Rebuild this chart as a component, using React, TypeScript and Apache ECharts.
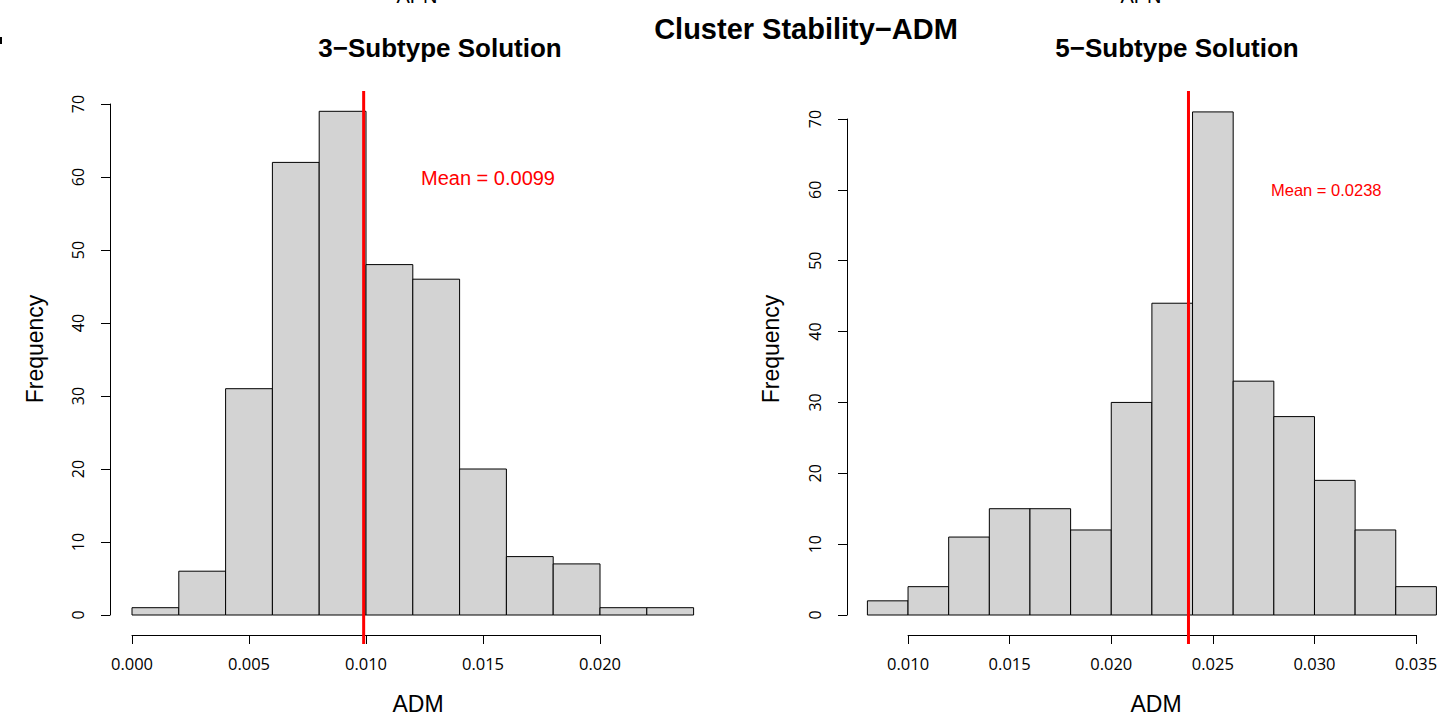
import React, { useEffect, useRef } from "react";
import * as echarts from "echarts";

// ---------- data ----------
const LEFT_BREAKS = [0.0, 0.002, 0.004, 0.006, 0.008, 0.01, 0.012, 0.014, 0.016, 0.018, 0.02, 0.022, 0.024];
const LEFT_COUNTS = [1, 6, 31, 62, 69, 48, 46, 20, 8, 7, 1, 1];
const LEFT_MEAN = 0.0099;

const RIGHT_BREAKS = [0.008, 0.01, 0.012, 0.014, 0.016, 0.018, 0.02, 0.022, 0.024, 0.026, 0.028, 0.03, 0.032, 0.034, 0.036];
const RIGHT_COUNTS = [2, 4, 11, 15, 15, 12, 30, 44, 71, 33, 28, 19, 12, 4];
const RIGHT_MEAN = 0.0238;

const Y_MAX = 70;
const Y_STEP = 10;
const LEFT_X_TICKS = { min: 0.0, max: 0.02, step: 0.005 };
const RIGHT_X_TICKS = { min: 0.01, max: 0.035, step: 0.005 };

const MAIN_TITLE = "Cluster Stability\u2212ADM";
const LEFT_TITLE = "3\u2212Subtype Solution";
const RIGHT_TITLE = "5\u2212Subtype Solution";
const X_NAME = "ADM";
const Y_NAME = "Frequency";
const LEFT_MEAN_LABEL = "Mean = 0.0099";
const RIGHT_MEAN_LABEL = "Mean = 0.0238";

function bins(breaks: number[], counts: number[]) {
  return counts.map((c, i) => [breaks[i], breaks[i + 1], c]);
}

const TICK_FONT = "'Open Sans', 'DejaVu Sans', sans-serif";
const SANS = "'Liberation Sans', Arial, sans-serif";

export default function App() {
  const ref = useRef<HTMLDivElement>(null);
  useEffect(() => {
    if (!ref.current) return;
    const chart = echarts.init(ref.current, null, { renderer: "svg" });

    // pixel layout
    const L = { x0: 132, x1: 693.6, axisX: 110, top: 104, bottom: 615, axisY: 635 };
    const R = { x0: 867.4, x1: 1436.4, axisX: 847, top: 119, bottom: 615, axisY: 635 };
    const pxL = (L.x1 - L.x0) / (LEFT_BREAKS[LEFT_BREAKS.length - 1] - LEFT_BREAKS[0]);
    const pxR = (R.x1 - R.x0) / (RIGHT_BREAKS[RIGHT_BREAKS.length - 1] - RIGHT_BREAKS[0]);
    const lineTop = 91, lineBottom = 644;

    const grid = (left: number, right: number, top: number, bottom: number) => ({
      left, top, width: right - left, height: bottom - top, containLabel: false,
    });

    const hiddenAxis = (min: number, max: number) => ({
      type: "value", min, max, show: false,
    });

    const yAxisVisible = () => ({
      type: "value", min: 0, max: Y_MAX, interval: Y_STEP, position: "left",
      axisLine: { show: true, onZero: false, lineStyle: { color: "#000", width: 1 } },
      axisTick: { show: true, length: 9, lineStyle: { color: "#000", width: 1 } },
      axisLabel: { rotate: 90, margin: 24, color: "#000", fontSize: 16, fontFamily: TICK_FONT },
      splitLine: { show: false },
    });

    const xAxisVisible = (t: { min: number; max: number; step: number }) => ({
      type: "value", min: t.min, max: t.max, interval: t.step, position: "bottom",
      axisLine: { show: true, onZero: false, lineStyle: { color: "#000", width: 1 } },
      axisTick: { show: true, length: 9, lineStyle: { color: "#000", width: 1 } },
      axisLabel: { margin: 20, color: "#000", fontSize: 16.5, fontFamily: TICK_FONT, formatter: (v: number) => v.toFixed(3) },
      splitLine: { show: false },
    });

    const renderBar = (params: any, api: any) => {
      const a = api.value(0), b = api.value(1), c = api.value(2);
      const p0 = api.coord([a, c]);
      const p1 = api.coord([b, 0]);
      return {
        type: "rect",
        shape: { x: p0[0], y: p0[1], width: p1[0] - p0[0], height: p1[1] - p0[1] },
        style: { fill: "#d3d3d3", stroke: "#000", lineWidth: 1 },
      };
    };

    const lxMin = LEFT_BREAKS[0], lxMax = LEFT_BREAKS[LEFT_BREAKS.length - 1];
    const rxMin = RIGHT_BREAKS[0], rxMax = RIGHT_BREAKS[RIGHT_BREAKS.length - 1];

    const option: any = {
      animation: false,
      backgroundColor: "#fff",
      grid: [
        grid(L.x0, L.x1, L.top, L.bottom), // 0 left data
        grid(L.x0 + (LEFT_X_TICKS.min - lxMin) * pxL, L.x0 + (LEFT_X_TICKS.max - lxMin) * pxL, L.top, L.axisY), // 1 left x axis
        grid(L.x0, L.x1, lineTop, lineBottom), // 2 left mean line
        grid(L.axisX, L.x1, L.top, L.bottom), // 3 left y axis
        grid(R.x0, R.x1, R.top, R.bottom), // 4 right data
        grid(R.x0 + (RIGHT_X_TICKS.min - rxMin) * pxR, R.x0 + (RIGHT_X_TICKS.max - rxMin) * pxR, R.top, R.axisY), // 5 right x axis
        grid(R.x0, R.x1, lineTop, lineBottom), // 6 right mean line
        grid(R.axisX, R.x1, R.top, R.bottom), // 7 right y axis
      ],
      xAxis: [
        { ...hiddenAxis(lxMin, lxMax), gridIndex: 0 },
        { ...xAxisVisible(LEFT_X_TICKS), gridIndex: 1 },
        { ...hiddenAxis(lxMin, lxMax), gridIndex: 2 },
        { ...hiddenAxis(0, 1), gridIndex: 3 },
        { ...hiddenAxis(rxMin, rxMax), gridIndex: 4 },
        { ...xAxisVisible(RIGHT_X_TICKS), gridIndex: 5 },
        { ...hiddenAxis(rxMin, rxMax), gridIndex: 6 },
        { ...hiddenAxis(0, 1), gridIndex: 7 },
      ],
      yAxis: [
        { ...hiddenAxis(0, Y_MAX), gridIndex: 0 },
        { ...hiddenAxis(0, 1), gridIndex: 1 },
        { ...hiddenAxis(0, 1), gridIndex: 2 },
        { ...yAxisVisible(), gridIndex: 3 },
        { ...hiddenAxis(0, Y_MAX), gridIndex: 4 },
        { ...hiddenAxis(0, 1), gridIndex: 5 },
        { ...hiddenAxis(0, 1), gridIndex: 6 },
        { ...yAxisVisible(), gridIndex: 7 },
      ],
      series: [
        {
          type: "custom", xAxisIndex: 0, yAxisIndex: 0, clip: false,
          renderItem: renderBar, encode: { x: [0, 1], y: 2 },
          data: bins(LEFT_BREAKS, LEFT_COUNTS),
        },
        {
          type: "line", xAxisIndex: 2, yAxisIndex: 2, symbol: "none",
          lineStyle: { color: "#ff0000", width: 3 },
          data: [[LEFT_MEAN, 0], [LEFT_MEAN, 1]], z: 5,
        },
        {
          type: "custom", xAxisIndex: 4, yAxisIndex: 4, clip: false,
          renderItem: renderBar, encode: { x: [0, 1], y: 2 },
          data: bins(RIGHT_BREAKS, RIGHT_COUNTS),
        },
        {
          type: "line", xAxisIndex: 6, yAxisIndex: 6, symbol: "none",
          lineStyle: { color: "#ff0000", width: 3 },
          data: [[RIGHT_MEAN, 0], [RIGHT_MEAN, 1]], z: 5,
        },
      ],
      graphic: [
        { type: "text", x: 806, y: 29, style: { text: MAIN_TITLE, fill: "#000", font: `bold 29px ${SANS}`, textAlign: "center", textVerticalAlign: "middle" } },
        { type: "text", x: 440, y: 48, style: { text: LEFT_TITLE, fill: "#000", font: `bold 26px ${SANS}`, textAlign: "center", textVerticalAlign: "middle" } },
        { type: "text", x: 1177, y: 48, style: { text: RIGHT_TITLE, fill: "#000", font: `bold 26px ${SANS}`, textAlign: "center", textVerticalAlign: "middle" } },
        { type: "text", x: 417, y: -4, style: { text: "APN", fill: "#000", font: `20px ${SANS}`, textAlign: "center", textVerticalAlign: "middle" } },
        { type: "text", x: 1141, y: -4, style: { text: "APN", fill: "#000", font: `20px ${SANS}`, textAlign: "center", textVerticalAlign: "middle" } },
        { type: "rect", shape: { x: 0, y: 37, width: 2, height: 7 }, style: { fill: "#000" } },
        { type: "text", x: 35, y: 349, rotation: Math.PI / 2, style: { text: Y_NAME, fill: "#000", font: `23px ${SANS}`, textAlign: "center", textVerticalAlign: "middle" } },
        { type: "text", x: 771, y: 349, rotation: Math.PI / 2, style: { text: Y_NAME, fill: "#000", font: `23px ${SANS}`, textAlign: "center", textVerticalAlign: "middle" } },
        { type: "text", x: 418, y: 704, style: { text: X_NAME, fill: "#000", font: `23px ${SANS}`, textAlign: "center", textVerticalAlign: "middle" } },
        { type: "text", x: 1156, y: 704, style: { text: X_NAME, fill: "#000", font: `23px ${SANS}`, textAlign: "center", textVerticalAlign: "middle" } },
        { type: "text", x: 421, y: 178, style: { text: LEFT_MEAN_LABEL, fill: "#ff0000", font: `20px ${SANS}`, textAlign: "left", textVerticalAlign: "middle" } },
        { type: "text", x: 1271, y: 190, style: { text: RIGHT_MEAN_LABEL, fill: "#ff0000", font: `16.5px ${SANS}`, textAlign: "left", textVerticalAlign: "middle" } },
      ],
    };
    chart.setOption(option);
    return () => chart.dispose();
  }, []);
  return <div ref={ref} style={{ position: "fixed", left: 0, top: 0, width: 1446, height: 717, background: "#fff" }} />;
}
